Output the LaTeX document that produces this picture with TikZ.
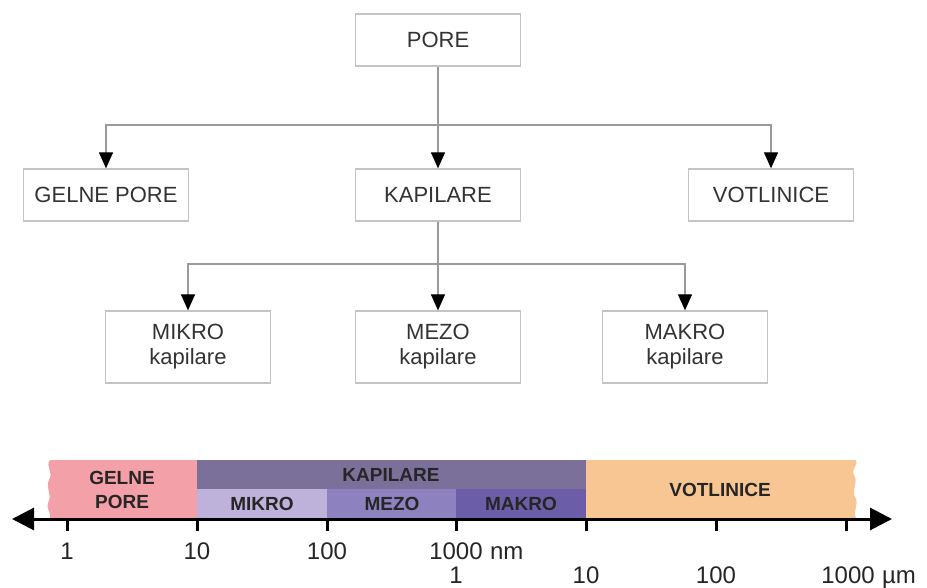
\documentclass[tikz,border=0pt]{standalone}
\usepackage{fontspec}
\setmainfont{Liberation Sans}
\usetikzlibrary{arrows.meta,positioning}
\definecolor{boxline}{HTML}{C4C4C4}
\definecolor{connline}{HTML}{9A9A9A}
\definecolor{boxtext}{HTML}{333333}
\definecolor{gelfill}{HTML}{F4A0A8}
\definecolor{kapfill}{HTML}{7B7099}
\definecolor{mikfill}{HTML}{BFB2DA}
\definecolor{mezfill}{HTML}{8D82BF}
\definecolor{makfill}{HTML}{6C5DA8}
\definecolor{votfill}{HTML}{F8C692}
\tikzset{
  porebox/.style={draw=boxline, line width=1.3pt, fill=white, minimum width=165pt,
    minimum height=52pt, inner sep=0pt, align=center, text=boxtext,
    font=\fontsize{22}{25}\selectfont},
  conn/.style={draw=connline, line width=1.2pt, -{Triangle[length=16pt,width=14pt,color=black]}},
  bartext/.style={font=\fontsize{19}{24}\selectfont\bfseries, text=black!85, align=center},
  scalelbl/.style={font=\fontsize{24}{26}\selectfont, text=black!85, inner sep=0pt}
}
\begin{document}
\begin{tikzpicture}[x=1pt,y=-1pt]
\useasboundingbox (0,0) rectangle (927,588);
% tree
\node[porebox] (pore) at (438,40) {PORE};
\node[porebox] (gelne) at (106,195) {GELNE PORE};
\node[porebox] (kap) at (438,195) {KAPILARE};
\node[porebox] (votl) at (771,195) {VOTLINICE};
\node[porebox, minimum height=72pt] (mikro) at (188,347) {MIKRO\\kapilare};
\node[porebox, minimum height=72pt] (mezo) at (438,347) {MEZO\\kapilare};
\node[porebox, minimum height=72pt] (makro) at (685,347) {MAKRO\\kapilare};
\coordinate (split1) at (438,125);
\coordinate (split2) at (438,264);
\draw[conn] (pore) -- (kap);
\draw[conn] (split1) -| (gelne);
\draw[conn] (split1) -| (votl);
\draw[conn] (kap) -- (mezo);
\draw[conn] (split2) -| (mikro);
\draw[conn] (split2) -| (makro);
% scale bar
\def\waveleft{(50,460) .. controls (45,467) and (54,472) .. (49,480) .. controls (45,489) and (53,494) .. (48,503) .. controls (46,510) and (52,513) .. (50,518)}
\def\waveright{(856,518) .. controls (852,510) and (860,505) .. (855,497) .. controls (851,489) and (859,483) .. (854,475) .. controls (851,468) and (859,464) .. (856,460)}
\fill[gelfill] \waveleft -- (197,518) -- (197,460) -- cycle;
\fill[kapfill] (197,460) rectangle (586,489);
\fill[mikfill] (197,489) rectangle (327,518);
\fill[mezfill] (327,489) rectangle (456,518);
\fill[makfill] (456,489) rectangle (586,518);
\fill[votfill] \waveright -- (586,460) -- (586,518) -- cycle;
\node[bartext] (gelbar) at (122,490) {GELNE\\PORE};
\node[bartext] (kapbar) at (391,475) {KAPILARE};
\node[bartext] (mikbar) at (262,504) {MIKRO};
\node[bartext] (mezbar) at (392,504) {MEZO};
\node[bartext] (makbar) at (521,504) {MAKRO};
\node[bartext] (votbar) at (720,490) {VOTLINICE};
\coordinate (axl) at (12,519);
\coordinate (axr) at (892,519);
\draw[line width=3pt, {Triangle[length=22pt,width=22pt]}-{Triangle[length=22pt,width=22pt]}] (axl) -- (axr);
\foreach \x in {67,197,327,456,586,716,846}
  \draw[line width=3pt] (\x,519) -- (\x,531);
% nm row
\foreach \x/\t in {67/1,197/10,327/100}
  \node[scalelbl] at (\x,551) {\t};
\node[scalelbl] (nmk) at (456,551) {1000};
\node[scalelbl, anchor=base west] (nmu) at ([xshift=7pt]nmk.base east) {nm};
% um row
\foreach \x/\t in {456/1,586/10,716/100}
  \node[scalelbl] at (\x,575) {\t};
\node[scalelbl] (umk) at (848,575) {1000};
\node[scalelbl, anchor=base west] (umu) at ([xshift=7pt]umk.base east) {µm};
\end{tikzpicture}
\end{document}
